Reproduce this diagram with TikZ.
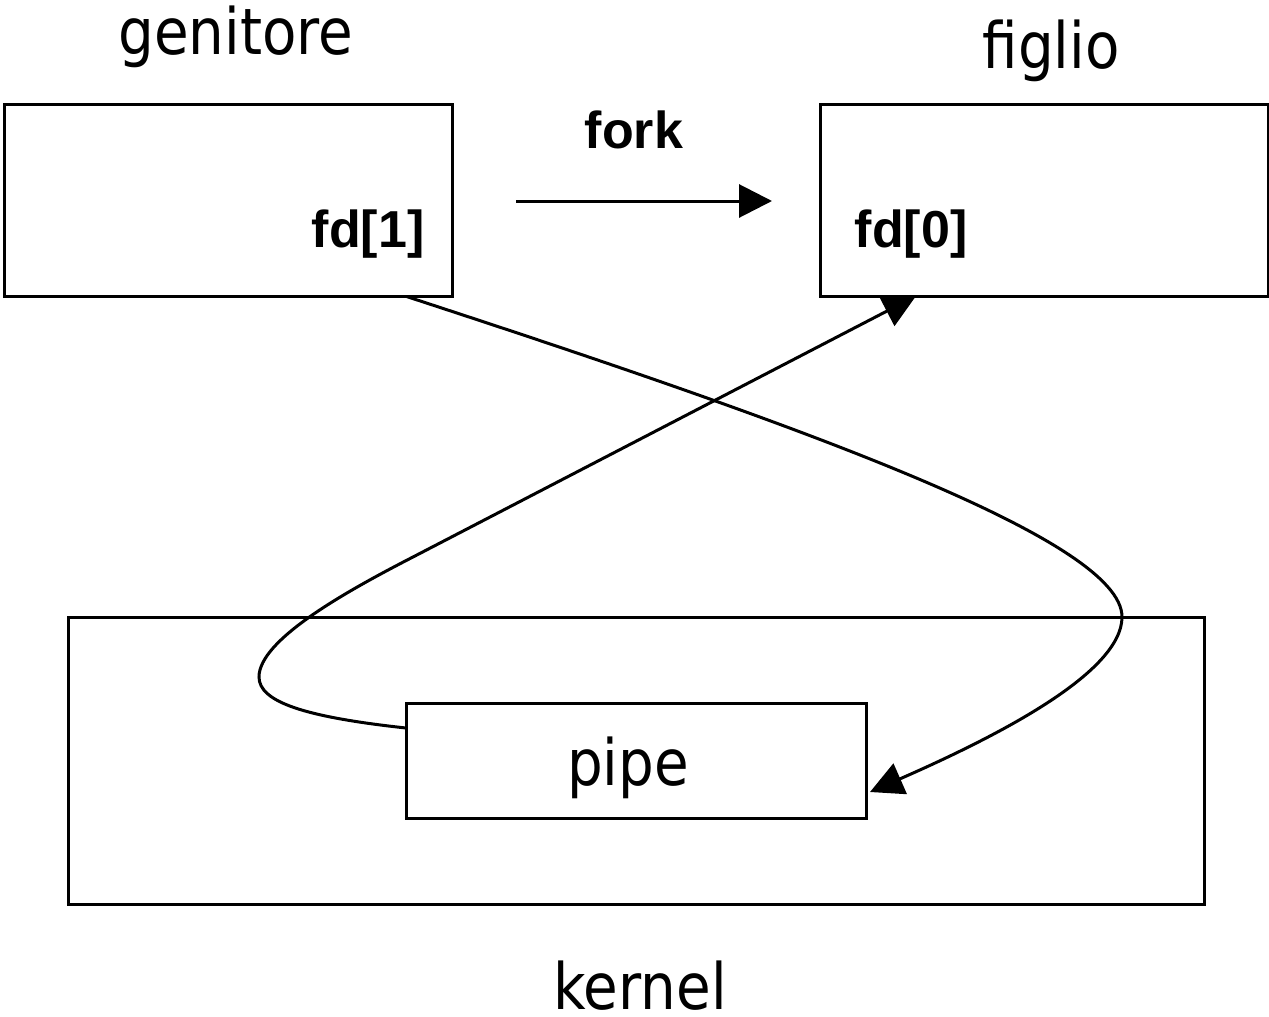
\documentclass[tikz,border=0pt]{standalone}
\usepackage{fontspec}
\usetikzlibrary{arrows.meta,calc}
\newfontfamily\lblfont{DejaVu Sans}[FakeStretch=0.88]
\newfontfamily\arialfont{Liberation Sans}
\begin{document}
\begin{tikzpicture}[x=1pt,y=-1pt,
  box/.style={draw,line width=3pt,fill=white,inner sep=0pt,outer sep=0pt},
  bigtext/.style={anchor=base,inner sep=0pt,text depth=0pt,font=\lblfont\fontsize{64}{70}\selectfont},
  boldtext/.style={anchor=base,inner sep=0pt,font=\arialfont\bfseries\fontsize{52}{60}\selectfont},
  conn/.style={line width=3pt,-{Triangle[length=33pt,width=33pt]}}]
\useasboundingbox (0,0) rectangle (1269,1017);
\coordinate (genC) at (228,200);
\coordinate (figC) at (1044,200);
\coordinate (kerC) at (636,760.5);
% invisible anchors for the connectors
\path (genC) node[minimum width=448pt,minimum height=192pt,inner sep=0pt,outer sep=0pt] (gen) {};
\path (figC) node[minimum width=448pt,minimum height=192pt,inner sep=0pt,outer sep=0pt] (fig) {};
\path (kerC) node[minimum width=460pt,minimum height=115pt,inner sep=0pt,outer sep=0pt] (pipe) {};
\node[box,minimum width=1136pt,minimum height=287pt] (kernel) at (kerC) {};
% connectors
\draw[conn] ([xshift=177pt]gen.south) .. controls (800,425) and (1122,540) .. (1122,617)
  .. controls (1122,672) and (1000,735) .. ([shift={(4pt,-31.5pt)}]pipe.east);
\draw[conn] ([yshift=32.5pt]pipe.west) .. controls (305,717) and (259,702) .. (259,677)
  .. controls (259,640) and (345,592) .. (413,557) -- ([xshift=-128pt]fig.south);
% boxes
\node[box,minimum width=448pt,minimum height=192pt] (genbox) at (genC) {};
\node[box,minimum width=448pt,minimum height=192pt] (figbox) at (figC) {};
\node[box,minimum width=460pt,minimum height=115pt] (pipebox) at (kerC) {};
% fork arrow
\coordinate (forkA) at (516,201);
\coordinate (forkB) at (772,201);
\draw[conn] (forkA) -- (forkB);
% texts
\node[bigtext] (tgen) at (236,54) {genitore};
\node[bigtext] (tfig) at (1051,68) {figlio};
\node[bigtext] (tpipe) at (628,785) {pipe};
\node[bigtext] (tker) at (640,1009) {kernel};
\node[boldtext] (tfork) at (634,148) {fork};
\node[boldtext] (tfd1) at (368,247) {fd[1]};
\node[boldtext] (tfd0) at (911,247) {fd[0]};
\end{tikzpicture}
\end{document}
